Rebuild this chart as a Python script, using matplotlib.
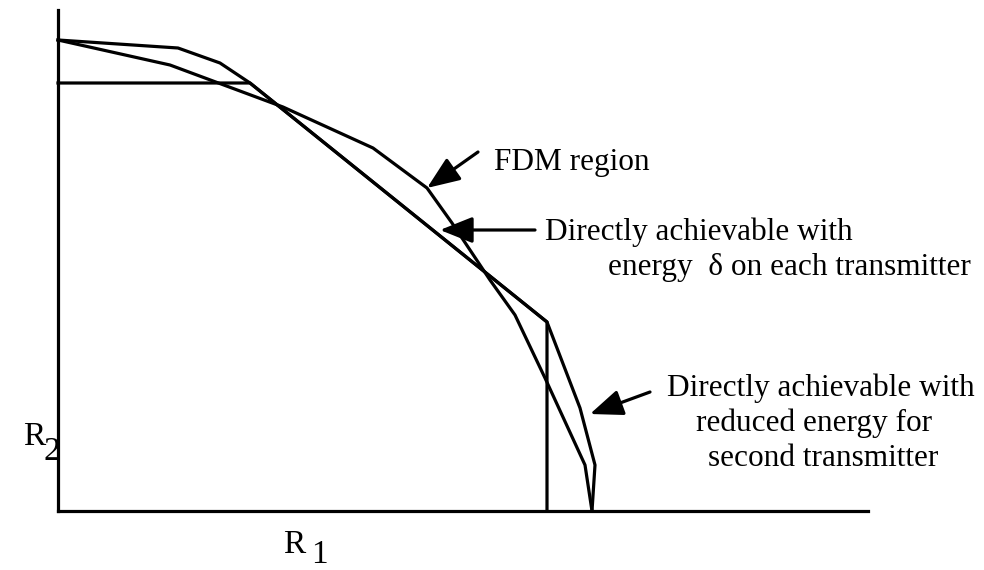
import matplotlib
matplotlib.use("Agg")
import matplotlib.pyplot as plt

# ---- data (R1 right, R2 up; origin at the axes corner) ----
fdm_r1 = [0, 112, 225, 315, 369, 394, 432, 457, 487, 527, 534]
fdm_r2 = [471, 446, 404, 363, 323, 288, 231, 196, 133, 46, 0]

delta_r1 = [0, 192, 489, 489]
delta_r2 = [428, 428, 189, 0]

reduced_r1 = [0, 120, 162, 192, 489, 522, 537, 534]
reduced_r2 = [471, 463, 448, 428, 189, 103, 46, 0]

axis_r1_max = 810
axis_r2_max = 501

labels = {
    "fdm": "FDM region",
    "delta1": "Directly achievable with",
    "delta2": "energy  \u03b4 on each transmitter",
    "red1": "Directly achievable with",
    "red2": "reduced energy for",
    "red3": "second transmitter",
}

plt.rcParams['font.family'] = ['Liberation Serif', 'DejaVu Serif']

W, H = 984, 570
X0, Y0 = 58, 511  # pixel position of origin


def px(x):
    return x - X0


def py(y):
    return Y0 - y


fig = plt.figure(figsize=(W / 100, H / 100), dpi=100)
ax = fig.add_axes([0, 0, 1, 1])
ax.set_xlim(px(0), px(W))
ax.set_ylim(py(H), py(0))
ax.set_xticks([])
ax.set_yticks([])
for s in ['top', 'right']:
    ax.spines[s].set_visible(False)
ax.spines['left'].set_position(('data', 0))
ax.spines['bottom'].set_position(('data', 0))
ax.spines['left'].set_bounds(0, axis_r2_max)
ax.spines['bottom'].set_bounds(0, axis_r1_max)
ax.spines['left'].set_linewidth(2.3)
ax.spines['bottom'].set_linewidth(2.3)

lw = 2.3
ax.plot(fdm_r1, fdm_r2, color='black', lw=lw)
ax.plot(delta_r1, delta_r2, color='black', lw=lw)
ax.plot(reduced_r1, reduced_r2, color='black', lw=lw)

fs = 22.5
kw = dict(fontsize=fs, ha='left', va='baseline')
ax.text(px(494), py(170), labels["fdm"], **kw)
ax.text(px(545), py(240), labels["delta1"], **kw)
ax.text(px(608), py(275), labels["delta2"], **kw)
ax.text(px(667), py(396), labels["red1"], **kw)
ax.text(px(696), py(431), labels["red2"], **kw)
ax.text(px(708), py(466), labels["red3"], **kw)

lk = dict(fontsize=24, ha='left', va='baseline')
ax.text(px(23), py(445), "R", **lk)
ax.text(px(43), py(460), "2", **lk)
ax.text(px(283), py(553), "R", **lk)
ax.text(px(311), py(563), "1", **lk)

aprops = dict(arrowstyle='-|>,head_length=20,head_width=8', mutation_scale=1,
              color='black', lw=2.3, shrinkA=0, shrinkB=0)
ax.annotate('', xy=(px(427), py(188)), xytext=(px(478), py(152)), arrowprops=aprops)
ax.annotate('', xy=(px(440), py(230)), xytext=(px(535), py(230)), arrowprops=aprops)
ax.annotate('', xy=(px(590), py(414)), xytext=(px(650), py(392)), arrowprops=aprops)

fig.savefig('out.png', dpi=100)
